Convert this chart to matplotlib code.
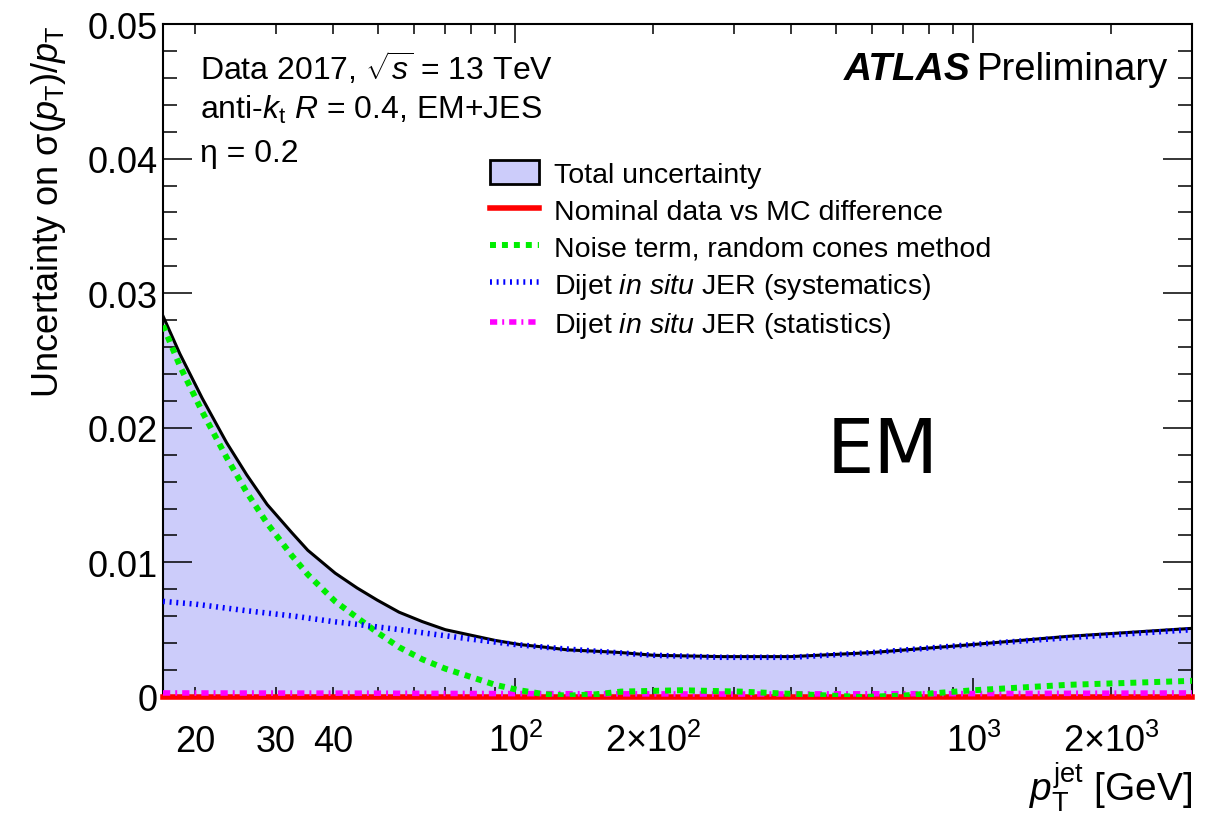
import numpy as np
import matplotlib
matplotlib.use("Agg")
from matplotlib import pyplot as plt
from matplotlib.patches import Patch
from matplotlib.lines import Line2D

plt.rcParams['font.family'] = ['Liberation Sans', 'DejaVu Sans']
plt.rcParams['mathtext.fontset'] = 'custom'
plt.rcParams['mathtext.rm'] = 'Liberation Sans'
plt.rcParams['mathtext.it'] = 'Liberation Sans:italic'
plt.rcParams['mathtext.bf'] = 'Liberation Sans:bold'

# values
pt_tot = [17, 18.5, 20.7, 23.4, 25.9, 28.7, 32.5, 35.2, 40.4, 45.1, 49.9, 55.7, 62.6,
          70.3, 79.7, 90.4, 102, 116, 130, 150, 170, 200, 280, 400, 600, 1000, 1600, 3000]
unc_tot = [0.0283, 0.0255, 0.0222, 0.0189, 0.0165, 0.0143, 0.0122, 0.0109, 0.0092, 0.0081,
           0.0072, 0.0063, 0.0056, 0.0050, 0.0046, 0.0042, 0.0039, 0.0037, 0.0035, 0.0034,
           0.0033, 0.0031, 0.0030, 0.0030, 0.0033, 0.0039, 0.0045, 0.0051]

pt_sys = [17, 20, 26, 33, 40, 45, 50, 56, 65, 80, 100, 125, 150, 200, 280, 400, 600,
          1000, 1600, 3000]
unc_sys = [0.0071, 0.0069, 0.0064, 0.0060, 0.0056, 0.0054, 0.0052, 0.0050, 0.0047, 0.0043,
           0.0039, 0.0036, 0.0034, 0.0031, 0.00295, 0.00295, 0.0033, 0.0039, 0.0044, 0.0050]

pt_noise = [17, 18.5, 20.7, 23.4, 25.9, 28.7, 32.5, 35.2, 40.4, 45.1, 49.9, 55.7, 62.6,
            70.3, 79.7, 90.4, 102, 116, 130, 150, 170, 230, 310, 420, 570, 700, 1000,
            1600, 3000]
unc_noise = [0.0276, 0.0246, 0.0212, 0.0178, 0.0152, 0.0129, 0.0105, 0.0091, 0.0071, 0.0059,
             0.0048, 0.0037, 0.0028, 0.0021, 0.0015, 0.0009, 0.0005, 0.0002, 0.0001, 0.0002,
             0.0004, 0.0005, 0.0004, 0.0002, 0.0000, 0.0001, 0.0005, 0.0009, 0.0012]

pt_stat = [17, 50, 100, 300, 1000, 3000]
unc_stat = [0.00030, 0.00028, 0.00025, 0.00022, 0.00025, 0.00030]

pt_nom = [17, 3000]
unc_nom = [0.0, 0.0]

fill_col = '#ccccfa'

fig = plt.figure(figsize=(12.12, 8.2), dpi=100)
ax = fig.add_axes([0.1345, 0.1488, 0.849, 0.8207])

ax.fill_between(pt_tot, 0, unc_tot, color=fill_col, lw=0, zorder=1)
ax.plot(pt_tot, unc_tot, color='black', lw=2.2, zorder=3)
ax.plot(pt_nom, unc_nom, color='#ff0000', lw=4, zorder=4, clip_on=False)
ax.plot(pt_stat, unc_stat, color='#ff00ff', lw=4, dashes=(1.3, 0.9, 0.35, 0.9), zorder=5)
ax.plot(pt_noise, unc_noise, color='#00ee00', lw=4.3, dashes=(1, 1), zorder=6)
ax.plot(pt_sys, unc_sys, color='#0000ff', lw=4, dashes=(0.35, 0.85), zorder=7)

ax.set_xscale('log')
ax.set_xlim(17, 3000)
ax.set_ylim(0, 0.05)

ax.set_xticks([100, 1000], labels=['$10^{2}$', '$10^{3}$'])
minor = [20, 30, 40, 50, 60, 70, 80, 90, 200, 300, 400, 500, 600, 700, 800, 900, 2000, 3000]
minor_lab = ['20', '30', '40', '', '', '', '', '', r'$2{\times}10^{2}$', '', '', '', '', '',
             '', '', r'$2{\times}10^{3}$', '']
ax.set_xticks(minor, labels=minor_lab, minor=True)
ax.set_yticks([0, 0.01, 0.02, 0.03, 0.04, 0.05], labels=['0', '0.01', '0.02', '0.03', '0.04', '0.05'])
ax.set_yticks(np.arange(0, 0.0501, 0.002), minor=True)

ax.tick_params(axis='both', which='both', direction='in', top=True, right=True,
               labelsize=26, width=1.1)
ax.tick_params(axis='x', which='major', length=14, pad=39)
ax.tick_params(axis='x', which='minor', length=7, pad=39)
ax.tick_params(axis='y', which='major', length=21, pad=4)
ax.tick_params(axis='y', which='minor', length=10)
for lab in ax.get_xticklabels() + ax.get_xticklabels(minor=True):
    lab.set_verticalalignment('baseline')
for sp in ax.spines.values():
    sp.set_linewidth(1.5)

ax.set_ylabel(r'Uncertainty on σ($p_{\mathrm{T}}$)/$p_{\mathrm{T}}$', fontsize=26, loc='top')
ax.yaxis.set_label_coords(-0.092, 1.0)
ax.set_xlabel(r'$p_{\mathrm{T}}^{\mathrm{jet}}$ [GeV]', fontsize=28, loc='right')
ax.xaxis.set_label_coords(1.0, -0.092)

ax.text(0.036, 0.936, r'Data 2017, $\sqrt{s}$ = 13 TeV', transform=ax.transAxes,
        fontsize=23, va='center')
ax.text(0.036, 0.874, r'anti-$k_{\mathrm{t}}$ $R$ = 0.4, EM+JES', transform=ax.transAxes,
        fontsize=23, va='center')
ax.text(0.036, 0.809, 'η = 0.2', transform=ax.transAxes, fontsize=23, va='center')
prelim = ax.text(0.977, 0.933, 'Preliminary', transform=ax.transAxes, fontsize=27.5,
                 ha='right', va='center')
ax.annotate('ATLAS', xy=(0, 0.5), xycoords=prelim, xytext=(-5, 0), textcoords='offset points',
            fontsize=28, fontweight='bold', fontstyle='italic', ha='right', va='center')
ax.text(0.699, 0.365, 'EM', transform=ax.transAxes, fontsize=54, family='DejaVu Sans',
        ha='center', va='center')

handles = [Patch(facecolor=fill_col, edgecolor='black', linewidth=2),
           Line2D([], [], color='#ff0000', lw=4),
           Line2D([], [], color='#00ee00', lw=4.3, dashes=(1, 1)),
           Line2D([], [], color='#0000ff', lw=4, dashes=(0.35, 0.85)),
           Line2D([], [], color='#ff00ff', lw=4, dashes=(1.3, 0.9, 0.35, 0.9))]
labels = ['Total uncertainty', 'Nominal data vs MC difference', 'Noise term, random cones method',
          'Dijet $\\it{in\\ situ}$ JER (systematics)', 'Dijet $\\it{in\\ situ}$ JER (statistics)']
ax.legend(handles, labels, loc='upper left', bbox_to_anchor=(0.318, 0.798), frameon=False,
          fontsize=20.5, borderpad=0, borderaxespad=0, labelspacing=0.33, handlelength=1.7,
          handleheight=0.9, handletextpad=0.55)

fig.savefig('out.png', dpi=100)
